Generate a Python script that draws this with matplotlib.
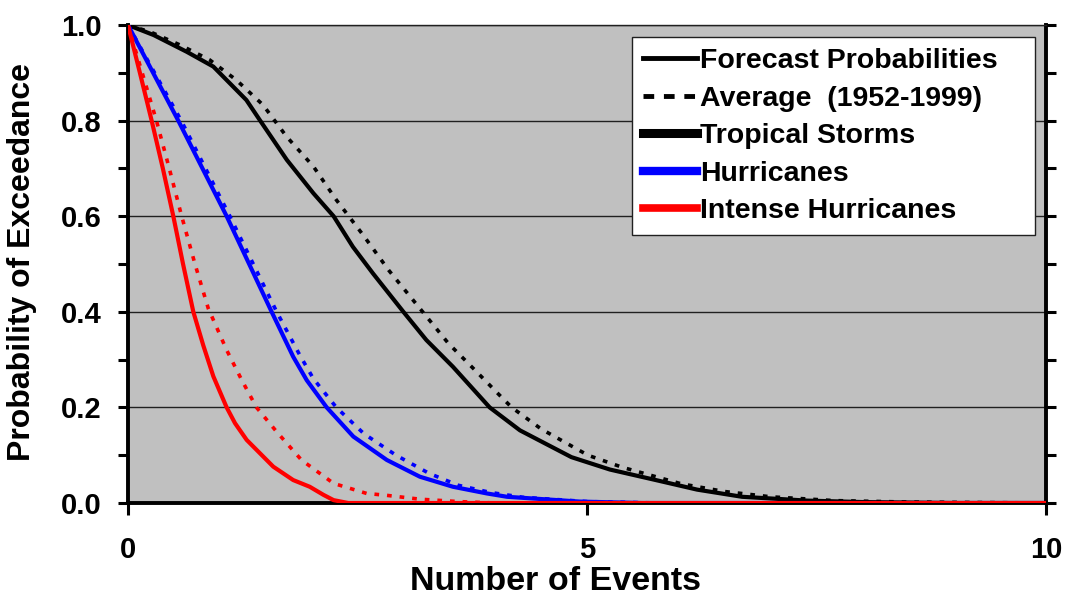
import numpy as np
import matplotlib
matplotlib.use("Agg")
import matplotlib.pyplot as plt
from matplotlib.lines import Line2D
from matplotlib.ticker import MultipleLocator

plt.rcParams["font.family"] = ["Liberation Sans", "DejaVu Sans"]
plt.rcParams["font.weight"] = "bold"

# Tropical storms (x = number of events, y = probability of exceedance)
ts_fc_x = [0, 0.28, 0.64, 0.93, 1.11, 1.29, 1.44, 1.73, 2.02, 2.24, 2.45, 2.67,
           3.0, 3.25, 3.54, 3.94, 4.27, 4.83, 5.25, 5.75, 6.2, 6.69, 7.4, 8.0,
           9.0, 10.0]
ts_forecast = [1.0, 0.979, 0.944, 0.913, 0.878, 0.843, 0.80, 0.718, 0.648, 0.60,
               0.536, 0.48, 0.40, 0.341, 0.285, 0.20, 0.152, 0.096, 0.07, 0.048,
               0.028, 0.013, 0.005, 0.002, 0.0, 0.0]
ts_av_x = [0, 0.25, 0.57, 0.89, 1.18, 1.47, 1.73, 2.02, 2.27, 2.56, 2.84, 3.18,
           3.49, 3.78, 4.03, 4.18, 4.5, 5.01, 5.38, 5.62, 6.03, 6.5, 7.0, 7.7,
           8.5, 9.3, 10.0]
ts_average = [1.0, 0.985, 0.958, 0.927, 0.885, 0.833, 0.766, 0.704, 0.634, 0.561,
              0.487, 0.407, 0.334, 0.278, 0.229, 0.20, 0.155, 0.10, 0.075, 0.062,
              0.04, 0.024, 0.013, 0.005, 0.002, 0.001, 0.0]

# Hurricanes
hu_fc_x = [0, 0.548, 1.075, 1.565, 1.80, 1.947, 2.165, 2.455, 2.82, 3.18, 3.54,
           3.91, 4.13, 4.92, 5.6, 10.0]
hu_forecast = [1.0, 0.80, 0.60, 0.40, 0.306, 0.257, 0.20, 0.139, 0.09, 0.055,
               0.034, 0.020, 0.013, 0.003, 0.0, 0.0]
hu_av_x = [0, 0.58, 1.11, 1.62, 1.87, 2.02, 2.27, 2.57, 2.92, 3.28, 3.6, 3.95,
           4.3, 5.0, 5.8, 10.0]
hu_average = [1.0, 0.80, 0.60, 0.40, 0.31, 0.26, 0.20, 0.145, 0.10, 0.062,
              0.037, 0.022, 0.012, 0.003, 0.0, 0.0]

# Intense hurricanes
ih_fc_x = [0, 0.13, 0.258, 0.38, 0.494, 0.60, 0.712, 0.82, 0.93, 1.075, 1.166,
           1.293, 1.438, 1.583, 1.80, 1.98, 2.13, 2.24, 2.4, 10.0]
ih_forecast = [1.0, 0.90, 0.80, 0.70, 0.60, 0.50, 0.40, 0.33, 0.265, 0.20, 0.167,
               0.132, 0.104, 0.076, 0.048, 0.034, 0.017, 0.006, 0.0, 0.0]
ih_av_x = [0, 0.155, 0.31, 0.45, 0.585, 0.73, 0.875, 1.075, 1.24, 1.40, 1.62,
           1.89, 2.24, 2.6, 2.82, 3.18, 3.6, 4.0, 10.0]
ih_average = [1.0, 0.90, 0.80, 0.70, 0.60, 0.50, 0.407, 0.32, 0.257, 0.20, 0.149,
              0.09, 0.041, 0.02, 0.016, 0.008, 0.003, 0.0, 0.0]

legend_labels = ["Forecast Probabilities", "Average  (1952-1999)",
                 "Tropical Storms", "Hurricanes", "Intense Hurricanes"]

BG = "#c0c0c0"
DASH = (0, (1.3, 2.2))


def main():
    fig = plt.figure(figsize=(10.69, 6.04), dpi=100)
    ax = fig.add_axes([0.1197, 0.1672, 0.8588, 0.7914])
    ax.set_facecolor(BG)

    series = [
        (ts_fc_x, ts_forecast, ts_av_x, ts_average, "black"),
        (hu_fc_x, hu_forecast, hu_av_x, hu_average, "#0000ff"),
        (ih_fc_x, ih_forecast, ih_av_x, ih_average, "#ff0000"),
    ]
    for fx, fy, avx, avy, col in series:
        ax.plot(avx, avy, color=col, lw=2.6, linestyle=DASH, zorder=3)
        ax.plot(fx, fy, color=col, lw=3.0, solid_joinstyle="round", zorder=3)

    ax.set_xlim(0, 10)
    ax.set_ylim(0, 1)
    ax.xaxis.set_major_locator(MultipleLocator(5))
    ax.yaxis.set_major_locator(MultipleLocator(0.2))
    ax.yaxis.set_minor_locator(MultipleLocator(0.1))
    ax.set_yticks(ax.get_yticks())
    ax.set_yticklabels([f"{v:.1f}" for v in ax.get_yticks()])
    ax.set_ylim(0, 1)

    ax.grid(axis="y", which="major", color="#202020", lw=1.0, zorder=1)
    ax.set_axisbelow(True)

    for side in ["left", "bottom", "right"]:
        ax.spines[side].set_linewidth(2.8)
        ax.spines[side].set_color("black")
    ax.spines["top"].set_linewidth(1.0)
    ax.spines["top"].set_color("#202020")

    ax.tick_params(axis="y", which="both", direction="out", left=True, right=True,
                   length=7.2, width=2.2, labelsize=21, pad=12)
    ax.tick_params(axis="x", which="major", direction="out", length=8.6,
                   width=2.2, labelsize=21, pad=15)

    ax.set_xlabel("Number of Events", fontsize=24.5, fontweight="bold")
    ax.set_ylabel("Probability of Exceedance", fontsize=23, fontweight="bold")
    ax.xaxis.label.set_va("center")
    ax.yaxis.label.set_va("center")
    ax.xaxis.set_label_coords(0.466, -0.165)
    ax.yaxis.set_label_coords(-0.115, 0.504)

    handles = [
        Line2D([], [], color="black", lw=3.5),
        Line2D([], [], color="black", lw=3.5, linestyle=(0, (2.2, 2.0))),
        Line2D([], [], color="black", lw=6.5),
        Line2D([], [], color="#0000ff", lw=6.0),
        Line2D([], [], color="#ff0000", lw=5.5),
    ]
    leg = ax.legend(handles, legend_labels, loc="upper left",
                    bbox_to_anchor=(0.549, 0.556, 0.439, 0.419), mode="expand",
                    prop={"weight": "bold", "size": 20.5},
                    handlelength=1.9, handletextpad=0.1, labelspacing=0.4,
                    borderpad=0.4, borderaxespad=0.0, fancybox=False,
                    framealpha=1.0, edgecolor="#202020")
    leg.get_frame().set_linewidth(1.0)

    fig.savefig("out.png", dpi=100, facecolor="white")


if __name__ == "__main__":
    main()
